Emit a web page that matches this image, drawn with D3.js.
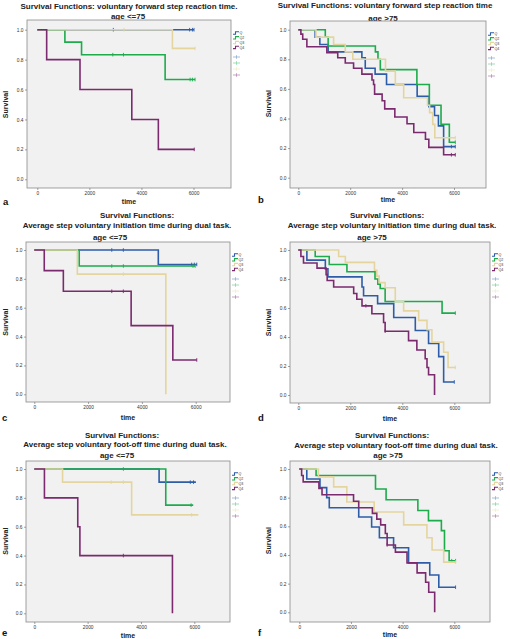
<!DOCTYPE html>
<html>
<head>
<meta charset="utf-8">
<script src="https://cdn.jsdelivr.net/npm/d3@7"></script>
<style>
  body { margin: 0; background: #fff; }
  svg { display: block; font-family: "Liberation Sans", Arial, sans-serif; }
</style>
</head>
<body>
<svg id="fig" width="510" height="639"></svg>
<script>
const groups = ['Q', 'Q2', 'Q3', 'Q4'];
const groupColors = ['#2d5ca8', '#1dab4c', '#e4d59e', '#7b2a6f'];
const censorColors = ['#93acd4', '#8ad6a6', '#f2ebcd', '#bb8db4'];
const yTicks = [0, 0.2, 0.4, 0.6, 0.8, 1.0];
const xTicks = [0, 2000, 4000, 6000];

// [time, survival after the step]; last pair = end of follow-up
// a: forward step reaction time, age <=75
const aQ1 = [[0, 1], [6020, 1]];
const aQ2 = [[0, 1], [1060, 0.917], [1700, 0.833], [4910, 0.667], [6060, 0.667]];
const aQ3 = [[0, 1], [5190, 0.875], [6060, 0.875]];
const aQ4 = [[0, 1], [360, 0.8], [1640, 0.6], [3630, 0.4], [4650, 0.2], [6030, 0.2]];
const aQ1c = [2920, 5850, 5960, 6020];
const aQ2c = [2900, 3310, 5870, 5960, 6060];
const aQ3c = [3330, 6060];
const aQ4c = [6030];

// b: forward step reaction time, age >75
const bQ1 = [[0, 1], [650, 0.95], [830, 0.90], [1150, 0.85], [2450, 0.81], [2580, 0.74], [2960, 0.70], [3400, 0.63], [4580, 0.55], [5030, 0.48], [5250, 0.42], [5400, 0.35], [5600, 0.21], [6050, 0.21]];
const bQ2 = [[0, 1], [1040, 0.95], [1150, 0.89], [2970, 0.85], [3070, 0.80], [3160, 0.73], [4570, 0.63], [5050, 0.49], [5500, 0.36], [5820, 0.24], [6050, 0.24]];
const bQ3 = [[0, 1], [680, 0.95], [1360, 0.90], [1810, 0.85], [2100, 0.80], [3360, 0.72], [3740, 0.63], [4060, 0.54], [4980, 0.49], [5060, 0.44], [5180, 0.36], [5260, 0.27], [6050, 0.27]];
const bQ4 = [[0, 1], [100, 0.97], [170, 0.935], [330, 0.885], [1100, 0.845], [1520, 0.81], [1810, 0.775], [2130, 0.74], [2450, 0.70], [2840, 0.66], [2900, 0.63], [2940, 0.565], [3230, 0.52], [3330, 0.465], [3720, 0.41], [4190, 0.365], [4450, 0.305], [4900, 0.26], [5030, 0.205], [5600, 0.155], [6050, 0.155]];
const bQ1c = [5900, 6050];
const bQ2c = [6050];
const bQ3c = [6050];
const bQ4c = [5900, 6050];

// c: initiation time during dual task, age <=75
const cQ1 = [[0, 1], [4610, 0.9], [6040, 0.9]];
const cQ2 = [[0, 1], [1670, 0.889], [5980, 0.889]];
const cQ3 = [[0, 1], [1600, 0.833], [4890, 0]];
const cQ4 = [[0, 1], [370, 0.857], [1080, 0.714], [3600, 0.476], [5150, 0.238], [6040, 0.238]];
const cQ1c = [2880, 3310, 5850, 5950, 6040];
const cQ2c = [2880, 3310, 5900, 5980];
const cQ3c = [3310];
const cQ4c = [2880, 3310, 6040];

// d: initiation time during dual task, age >75
const dQ1 = [[0, 1], [330, 0.93], [1040, 0.87], [1140, 0.815], [2450, 0.745], [2510, 0.685], [3050, 0.63], [3670, 0.535], [4500, 0.445], [5010, 0.355], [5400, 0.265], [5590, 0.09], [6000, 0.09]];
const dQ2 = [[0, 1], [650, 0.955], [1190, 0.90], [1870, 0.85], [2950, 0.80], [3060, 0.765], [3150, 0.735], [3340, 0.645], [5530, 0.565], [6040, 0.565]];
const dQ3 = [[0, 1], [1550, 0.955], [1810, 0.915], [2930, 0.86], [3020, 0.82], [3110, 0.775], [3340, 0.74], [3730, 0.645], [4050, 0.58], [4630, 0.515], [4950, 0.45], [5140, 0.365], [5590, 0.295], [5760, 0.19], [6040, 0.19]];
const dQ4 = [[0, 1], [100, 0.955], [200, 0.91], [720, 0.875], [1070, 0.83], [1110, 0.79], [1360, 0.745], [2130, 0.70], [2250, 0.66], [2450, 0.615], [2830, 0.56], [3280, 0.50], [3340, 0.44], [4240, 0.375], [4560, 0.31], [4880, 0.25], [4950, 0.19], [5010, 0.14], [5240, 0]];
const dQ1c = [6000];
const dQ2c = [6040];
const dQ3c = [6040];
const dQ4c = [2600, 3340];

// e: foot-off time during dual task, age <=75
const eQ1 = [[0, 1], [4680, 0.909], [6060, 0.909]];
const eQ2 = [[0, 1], [4930, 0.75], [5960, 0.75]];
const eQ3 = [[0, 1], [1060, 0.909], [3650, 0.682], [6150, 0.682]];
const eQ4 = [[0, 1], [380, 0.8], [1630, 0.6], [1710, 0.4], [5180, 0]];
const eQ1c = [5850, 5970];
const eQ2c = [3340, 5880];
const eQ3c = [2880, 3340, 5900];
const eQ4c = [3340];

// f: foot-off time during dual task, age >75
const fQ1 = [[0, 1], [290, 0.93], [800, 0.87], [1060, 0.80], [1160, 0.73], [2300, 0.665], [2800, 0.595], [3100, 0.52], [3650, 0.45], [4230, 0.345], [5050, 0.26], [5400, 0.175], [6050, 0.175]];
const fQ2 = [[0, 1], [650, 0.955], [2950, 0.86], [3360, 0.785], [4590, 0.71], [5000, 0.64], [5500, 0.57], [5620, 0.43], [5800, 0.36], [6050, 0.36]];
const fQ3 = [[0, 1], [740, 0.945], [1330, 0.875], [1840, 0.77], [2900, 0.70], [4040, 0.61], [4940, 0.52], [5140, 0.435], [5590, 0.35], [6050, 0.35]];
const fQ4 = [[0, 1], [90, 0.955], [150, 0.91], [760, 0.865], [880, 0.82], [2100, 0.775], [2300, 0.73], [2830, 0.69], [3000, 0.65], [3150, 0.61], [3330, 0.55], [3400, 0.47], [3720, 0.42], [4170, 0.345], [4560, 0.275], [4890, 0.21], [5010, 0.14], [5240, 0]];
const fQ1c = [6050];
const fQ2c = [5900, 6050];
const fQ3c = [6050];
const fQ4c = [3400];

const titleReaction = 'Survival Functions: voluntary forward step reaction time';
const titleHead = 'Survival Functions:';
const titleInit = 'Average step voluntary initiation time during dual task.';
const titleFoot = 'Average step voluntary foot-off time during dual task.';

// layout of the six panels
const panels = [
  { letter: 'a', lx: 3, ly: 205, box: [27, 20, 231, 188], xr: [37.3, 193.5], yr: [179.3, 29.7], survX: 8, timeY: 204,
    curves: [aQ1, aQ2, aQ3, aQ4], cens: [aQ1c, aQ2c, aQ3c, aQ4c],
    titles: [[titleReaction + '.', 129, 8.5], ['age <=75', 128, 18.5]] },
  { letter: 'b', lx: 258, ly: 203, box: [290, 21, 486, 188], xr: [298.3, 454], yr: [177.7, 29.7], survX: 271, timeY: 202,
    curves: [bQ1, bQ2, bQ3, bQ4], cens: [bQ1c, bQ2c, bQ3c, bQ4c],
    titles: [[titleReaction, 385, 7.5], ['age >75', 383, 20.5]] },
  { letter: 'c', lx: 2, ly: 421, box: [26, 242, 230, 402], xr: [34.3, 195.7], yr: [394.3, 250], survX: 7.5, timeY: 419.5,
    curves: [cQ1, cQ2, cQ3, cQ4], cens: [cQ1c, cQ2c, cQ3c, cQ4c],
    titles: [[titleHead, 137, 217.5], [titleInit, 127, 227.5], ['age <=75', 110, 239.5]] },
  { letter: 'd', lx: 258, ly: 421, box: [290, 242, 490, 403], xr: [298.3, 454.3], yr: [395, 250], survX: 271, timeY: 420.5,
    curves: [dQ1, dQ2, dQ3, dQ4], cens: [dQ1c, dQ2c, dQ3c, dQ4c],
    titles: [[titleHead, 387, 217.5], [titleInit, 392, 227.5], ['age >75', 372, 239.5]] },
  { letter: 'e', lx: 2, ly: 636, box: [26, 461, 230, 622], xr: [34.3, 194.3], yr: [613.3, 469], survX: 7.5, timeY: 637.5,
    curves: [eQ1, eQ2, eQ3, eQ4], cens: [eQ1c, eQ2c, eQ3c, eQ4c],
    titles: [[titleHead, 122, 437.5], [titleFoot, 125, 446.5], ['age <=75', 117, 457.5]] },
  { letter: 'f', lx: 258, ly: 636, box: [290, 461, 490, 622], xr: [299.3, 454.3], yr: [612.3, 469], survX: 271, timeY: 636.5,
    curves: [fQ1, fQ2, fQ3, fQ4], cens: [fQ1c, fQ2c, fQ3c, fQ4c],
    titles: [[titleHead, 392, 437.5], [titleFoot, 396, 447.5], ['age >75', 388, 457.5]] }
];

const svg = d3.select('#fig');
const fmtY = d3.format('.1f');
const fmtX = d3.format('d');

function survAt(pts, t) {
  let s = pts[0][1];
  pts.forEach(p => { if (p[0] <= t) s = p[1]; });
  return s;
}

function stepPath(pts, x, y) {
  let d = `M${x(pts[0][0])},${y(pts[0][1])}`;
  for (let i = 1; i < pts.length; i++) {
    d += `H${x(pts[i][0])}V${y(pts[i][1])}`;
  }
  return d;
}

panels.forEach(p => {
  const [bx0, by0, bx1, by1] = p.box;
  const x = d3.scaleLinear().domain([0, 6000]).range(p.xr);
  const y = d3.scaleLinear().domain([0, 1]).range(p.yr);
  const g = svg.append('g');

  // titles
  p.titles.forEach(t => {
    g.append('text')
      .attr('x', t[1]).attr('y', t[2])
      .attr('text-anchor', 'middle')
      .style('font-size', '8px').style('font-weight', 'bold').style('fill', '#222')
      .text(t[0]);
  });

  g.append('rect')
    .attr('x', bx0).attr('y', by0)
    .attr('width', bx1 - bx0).attr('height', by1 - by0)
    .style('fill', '#f1f1f1').style('stroke', '#8a8a8a').style('stroke-width', 0.8);

  // axes
  const yAxis = d3.axisLeft(y).tickValues(yTicks).tickSize(2).tickPadding(1.5).tickFormat(fmtY);
  const xAxis = d3.axisBottom(x).tickValues(xTicks).tickSize(2).tickPadding(2).tickFormat(fmtX);

  const yAxisG = g.append('g').attr('transform', `translate(${bx0},0)`).call(yAxis);
  const xAxisG = g.append('g').attr('transform', `translate(0,${by1})`).call(xAxis);
  [yAxisG, xAxisG].forEach(a => {
    a.select('.domain').remove();
    a.selectAll('line').style('stroke', '#666').style('stroke-width', 0.6);
    a.selectAll('text').style('font-size', '4.8px').style('fill', '#333').style('font-family', '"Liberation Sans", Arial, sans-serif');
  });

  g.append('text')
    .attr('transform', `translate(${p.survX},${(p.yr[0] + p.yr[1]) / 2}) rotate(-90)`)
    .attr('text-anchor', 'middle')
    .style('font-size', '7px').style('font-weight', 'bold').style('fill', '#222')
    .text('Survival');

  g.append('text')
    .attr('x', (bx0 + bx1) / 2).attr('y', p.timeY)
    .attr('text-anchor', 'middle')
    .style('font-size', '7px').style('font-weight', 'bold').style('fill', '#222')
    .text('time');

  g.append('text')
    .attr('x', p.lx).attr('y', p.ly)
    .style('font-size', '9.5px').style('font-weight', 'bold').style('fill', '#111')
    .text(p.letter);

  // curves
  const lines = g.append('g');
  p.curves.forEach((pts, i) => {
    lines.append('path')
      .attr('d', stepPath(pts, x, y))
      .style('fill', 'none')
      .style('stroke', groupColors[i])
      .style('stroke-width', 1.6)
      .style('stroke-linejoin', 'miter');
    lines.selectAll(null)
      .data(p.cens[i])
      .enter()
      .append('line')
      .attr('x1', t => x(t)).attr('x2', t => x(t))
      .attr('y1', t => y(survAt(pts, t)) - 1.8)
      .attr('y2', t => y(survAt(pts, t)) + 1.8)
      .style('stroke', groupColors[i])
      .style('stroke-width', 0.9);
  });

  // legend
  const leg = g.append('g').attr('transform', `translate(${bx1 + 2},${by0 + 13})`);
  groups.forEach((name, i) => {
    const ly = i * 4.8;
    leg.append('path')
      .attr('d', `M0,${ly + 1.2}H2.5V${ly - 1.2}H6`)
      .style('fill', 'none').style('stroke', groupColors[i]).style('stroke-width', 1.1);
    leg.append('text')
      .attr('x', 6.5).attr('y', ly + 1.4)
      .style('font-size', '3.6px').style('fill', '#333')
      .text(name);
  });
  groups.forEach((name, i) => {
    const ly = 24 + i * 6;
    leg.append('line')
      .attr('x1', 0).attr('x2', 7).attr('y1', ly).attr('y2', ly)
      .style('stroke', censorColors[i]).style('stroke-width', 0.8);
    leg.append('line')
      .attr('x1', 3.5).attr('x2', 3.5).attr('y1', ly - 1.8).attr('y2', ly + 1.8)
      .style('stroke', censorColors[i]).style('stroke-width', 0.8);
  });
});
</script>
</body>
</html>
